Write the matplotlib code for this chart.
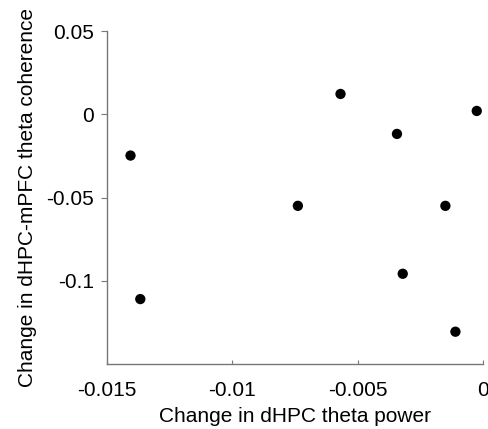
import matplotlib

matplotlib.use("Agg")
import matplotlib.pyplot as plt  # noqa: E402

plt.rcParams["font.family"] = ["Liberation Sans", "DejaVu Sans"]

# change in dHPC theta power vs change in dHPC-mPFC theta coherence
theta_power = [-0.01405, -0.01366, -0.00738, -0.00568, -0.00343,
               -0.0032, -0.0015, -0.0011, -0.00025]
coherence = [-0.0248, -0.111, -0.055, 0.0122, -0.0118,
             -0.0958, -0.055, -0.1306, 0.002]

x_ticks = [-0.015, -0.01, -0.005, 0]
x_labels = ["-0.015", "-0.01", "-0.005", "0"]
y_ticks = [0.05, 0, -0.05, -0.1]
y_labels = ["0.05", "0", "-0.05", "-0.1"]

fig = plt.figure(figsize=(4.88, 4.29), dpi=100)
ax = fig.add_axes([0.2186, 0.1515, 0.7712, 0.7762])

ax.scatter(theta_power, coherence, s=55, color="black", edgecolors="none",
           clip_on=False, zorder=3)

ax.set_xlim(-0.015, 0)
ax.set_ylim(-0.15, 0.05)
ax.set_xticks(x_ticks, x_labels)
ax.set_yticks(y_ticks, y_labels)

for side in ("top", "right"):
    ax.spines[side].set_visible(False)
for side in ("left", "bottom"):
    ax.spines[side].set_color("#777777")
    ax.spines[side].set_linewidth(1.0)

ax.tick_params(axis="x", direction="in", length=3, color="#777777",
               labelsize=15, pad=12)
ax.tick_params(axis="y", direction="out", length=4, color="#777777",
               labelsize=15, pad=5)

ax.set_xlabel("Change in dHPC theta power", fontsize=15, labelpad=5)
ax.set_ylabel("Change in dHPC-mPFC theta coherence", fontsize=15,
              labelpad=7)

fig.savefig("out.png", dpi=100)
plt.close(fig)
